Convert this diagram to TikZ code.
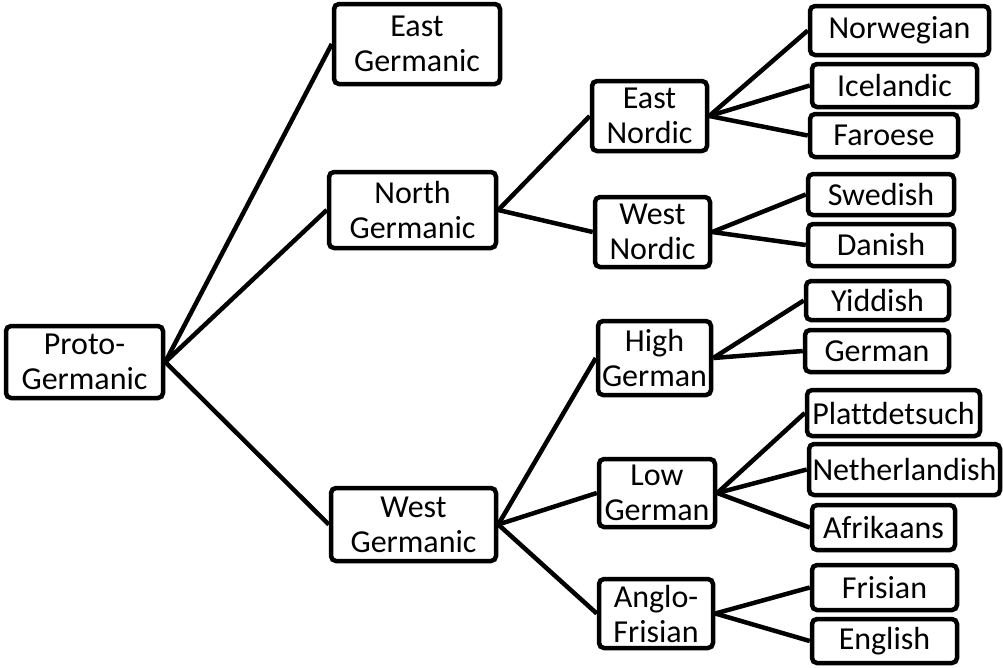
\documentclass[tikz,border=0pt]{standalone}
\usepackage{fontspec}
\setmainfont[Ligatures={NoCommon}]{Carlito}
\begin{document}
\begin{tikzpicture}[x=1pt,y=-1pt,
  box/.style={draw=black,line width=4.5pt,rounded corners=5pt,fill=white,align=center,
    inner sep=0pt,font=\fontsize{32}{35}\selectfont},
  link/.style={line width=4.5pt,black}]
\useasboundingbox (0,0) rectangle (1003,667);
\newcommand{\bx}[6]{\node[box,minimum width=#4pt,minimum height=#5pt] (#1) at (#2,#3) {#6};}
\bx{proto}{84.5}{362}{157}{72}{Proto-\\Germanic}
\bx{eg}{417}{44}{166}{80}{East\\Germanic}
\bx{ng}{412.5}{210}{167}{76}{North\\Germanic}
\bx{wg}{413.5}{524.5}{165}{73}{West\\Germanic}
\bx{en}{649.5}{116}{115}{70}{East\\Nordic}
\bx{wn}{652.5}{232}{115}{70}{West\\Nordic}
\bx{nor}{899.5}{30.5}{179}{49}{Norwegian}
\bx{ice}{894.5}{85.5}{165}{43}{Icelandic}
\bx{far}{884}{135.5}{148}{43}{Faroese}
\bx{swe}{881}{194.5}{146}{41}{Swedish}
\bx{dan}{881}{245}{146}{42}{Danish}
\bx{hg}{654.5}{358}{113}{74}{High\\German}
\bx{yid}{877.5}{300.5}{143}{39}{Yiddish}
\bx{ger}{877}{351}{144}{42}{German}
\bx{lg}{657}{493}{116}{68}{Low\\German}
\bx{pla}{893.5}{413}{173}{46}{Plattdetsuch}
\bx{net}{904.5}{469.5}{191}{51}{Netherlandish}
\bx{afr}{883.5}{527.5}{143}{45}{Afrikaans}
\bx{af}{656}{613.5}{114}{69}{Anglo-\\Frisian}
\bx{fri}{884.5}{587.5}{145}{45}{Frisian}
\bx{eng}{884.5}{641}{145}{44}{English}
\foreach \a/\b in {proto/eg,proto/ng,proto/wg,ng/en,ng/wn,en/nor,en/ice,en/far,wn/swe,wn/dan,
  wg/hg,wg/lg,wg/af,hg/yid,hg/ger,lg/pla,lg/net,lg/afr,af/fri,af/eng}
  \draw[link] (\a.east) -- (\b.west);
\end{tikzpicture}
\end{document}
